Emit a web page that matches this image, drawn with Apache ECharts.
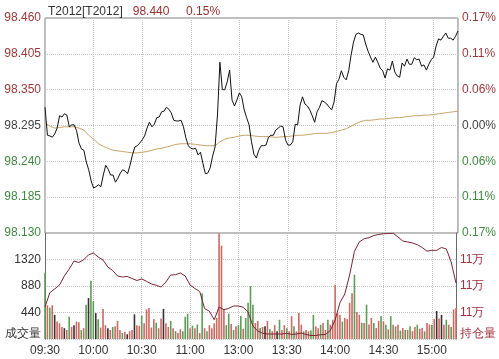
<!DOCTYPE html>
<html><head><meta charset="utf-8">
<script src="https://cdn.jsdelivr.net/npm/echarts@6/dist/echarts.min.js"></script>
<style>html,body{margin:0;padding:0;background:#fff}#c{width:499px;height:359px}</style>
</head><body><div id="c"></div>
<script>
const contract = 'T2012';
const preClose = 98.295;
const timeLabels = ['09:30','10:00','10:30','11:00','13:00','13:30','14:00','14:30','15:00'];
const priceTicks = [98.130, 98.185, 98.240, 98.295, 98.350, 98.405, 98.460];
const volTicks = [0, 440, 880, 1320, 1760];
const oiTicks = [111000, 112000, 113000, 114000, 115000];
const sessionMinutes = 255;
const priceStep = 1.5;   // minutes between price / volume samples
const avgStep = 3;       // minutes between average / open-interest samples

const price = [98.323,98.280,98.279,98.277,98.282,98.291,98.310,98.308,98.313,98.311,
98.293,98.296,98.296,98.287,98.268,98.259,98.257,98.239,98.227,98.210,
98.199,98.201,98.204,98.201,98.219,98.234,98.228,98.219,98.219,98.208,
98.214,98.222,98.227,98.225,98.221,98.234,98.250,98.262,98.264,98.268,
98.273,98.279,98.291,98.300,98.293,98.297,98.307,98.308,98.316,98.317,
98.323,98.320,98.314,98.303,98.302,98.302,98.303,98.293,98.276,98.264,
98.260,98.259,98.260,98.250,98.254,98.237,98.221,98.222,98.230,98.248,
98.262,98.311,98.392,98.350,98.350,98.362,98.380,98.334,98.325,98.334,
98.345,98.339,98.319,98.307,98.296,98.270,98.251,98.245,98.257,98.264,
98.264,98.265,98.277,98.280,98.280,98.288,98.291,98.294,98.293,98.273,
98.265,98.265,98.270,98.297,98.296,98.326,98.339,98.328,98.325,98.319,
98.310,98.300,98.316,98.323,98.333,98.331,98.328,98.323,98.319,98.331,
98.359,98.366,98.379,98.369,98.365,98.379,98.403,98.423,98.435,98.437,
98.435,98.434,98.420,98.409,98.400,98.392,98.400,98.392,98.383,98.379,
98.368,98.382,98.380,98.394,98.377,98.371,98.369,98.391,98.386,98.397,
98.389,98.389,98.399,98.396,98.397,98.386,98.388,98.380,98.389,98.396,
98.400,98.417,98.428,98.426,98.432,98.437,98.429,98.429,98.426,98.432,
98.440];

const avgPrice = [98.299,98.294,98.291,98.292,98.293,98.293,98.293,98.291,98.288,98.280,
98.274,98.267,98.263,98.260,98.257,98.256,98.255,98.254,98.253,98.253,
98.254,98.255,98.257,98.259,98.260,98.262,98.264,98.266,98.267,98.267,
98.267,98.266,98.265,98.264,98.264,98.264,98.270,98.274,98.276,98.277,
98.279,98.280,98.280,98.279,98.278,98.278,98.278,98.277,98.277,98.278,
98.278,98.279,98.280,98.280,98.281,98.282,98.283,98.283,98.283,98.284,
98.286,98.288,98.290,98.294,98.298,98.301,98.303,98.303,98.304,98.305,
98.305,98.306,98.307,98.307,98.308,98.309,98.310,98.310,98.311,98.311,
98.312,98.313,98.314,98.315,98.316,98.317];

const volume = [1100,560,520,560,400,290,260,200,180,150,
370,200,230,290,280,150,180,570,680,968,
630,430,330,190,500,230,180,150,200,210,
300,150,100,120,80,130,150,410,230,220,
390,260,490,515,190,330,270,180,340,500,
260,200,300,180,130,100,160,130,370,420,
180,220,180,240,100,760,180,130,230,180,
260,350,1750,1550,500,230,420,250,150,210,
230,380,170,350,600,880,570,265,300,183,
200,210,300,160,130,230,127,320,150,230,
180,130,380,210,127,430,238,127,150,127,
140,400,210,180,238,265,150,320,238,320,
900,430,400,290,350,330,600,760,1067,450,
400,270,265,570,240,350,265,183,300,380,
293,238,160,380,238,210,238,140,183,150,
150,210,130,200,238,170,183,127,265,240,
238,330,465,340,400,238,320,238,200,490,
515];

// tick direction of each volume bar: 1 up, -1 down, 0 unchanged
const volDir = [-1,1,-1,1,0,1,1,1,0,1,
-1,1,0,1,1,-1,1,-1,0,-1,
-1,0,-1,1,1,1,0,1,-1,1,
1,1,-1,1,0,1,1,0,1,1,
-1,1,1,1,1,1,-1,1,1,0,
1,1,-1,1,-1,1,1,-1,-1,-1,
1,-1,1,-1,1,-1,1,-1,1,1,
1,1,1,1,1,-1,-1,1,-1,1,
-1,-1,1,-1,-1,-1,-1,1,1,-1,
1,0,1,-1,1,1,0,-1,1,1,
-1,1,1,-1,1,1,1,-1,1,1,
-1,-1,1,1,-1,1,1,-1,1,1,
1,1,1,-1,1,1,1,1,-1,1,
1,-1,1,-1,1,1,-1,1,1,-1,
1,-1,1,-1,1,-1,1,-1,1,-1,
1,-1,1,1,-1,1,1,-1,1,1,
-1,1,0,1,0,1,-1,1,-1,1,
1];

const openInterest = [112208,112747,112887,113038,113378,113642,113944,113887,113993,114170,
114246,114095,113981,113717,113585,113378,113340,113359,113283,113208,
113264,113178,113076,113027,112962,113151,113415,113427,113491,113378,
113038,112906,112793,112151,112045,111728,112208,112106,112159,112245,
112245,112196,112019,111491,111302,111219,111189,111189,111189,111189,
111215,111170,111189,111226,111170,111132,111132,111162,111170,111321,
111717,112370,112698,113415,114310,114661,114785,114823,114906,114944,
114970,114981,114990,114849,114699,114661,114623,114559,114453,114314,
114348,114344,114453,114397,113906,113113];

const FONT = 'Liberation Sans';
const RED = '#9b3838', GREEN = '#3f8a3f', GRAY = '#444';
const dirColor = {'1': '#c96a63', '-1': '#5e9c58', '0': '#3b2f2f'};
const lastPrice = price[price.length - 1];
const lastPct = ((lastPrice - preClose) / preClose * 100).toFixed(2) + '%';
const pStep = +(priceTicks[1] - priceTicks[0]).toFixed(3);

const gridLine = {show: true, lineStyle: {color: '#c4c4c4', type: 'dotted', width: 1}};
const lbl = {fontFamily: FONT, fontSize: 12};
function sideColor(v) {
  v = parseFloat(v);
  if (v > preClose + 1e-6) return RED;
  if (v < preClose - 1e-6) return GREEN;
  return GRAY;
}

const chart = echarts.init(document.getElementById('c'), null, {renderer: 'canvas'});
chart.setOption({
  animation: false,
  backgroundColor: '#fff',
  title: {
    left: 43, top: 1,
    text: '{a|' + contract + '[' + contract + ']}{b|   ' + lastPrice.toFixed(3) + '     ' + lastPct + '}',
    textStyle: {fontWeight: 'normal', rich: {
      a: {fontFamily: FONT, fontSize: 12, fontWeight: 'normal', color: '#333'},
      b: {fontFamily: FONT, fontSize: 12, fontWeight: 'normal', color: '#9b2f2f'}
    }}
  },
  grid: [
    {left: 45, right: 40, top: 18, height: 215, show: true, borderColor: '#7a7a7a', borderWidth: 1, backgroundColor: 'transparent'},
    {left: 45, right: 40, top: 233, height: 106}
  ],
  xAxis: [
    {type: 'value', gridIndex: 0, min: 0, max: sessionMinutes, interval: 30,
     axisLine: {show: false}, axisTick: {show: false}, axisLabel: {show: false}, splitLine: gridLine},
    {type: 'value', gridIndex: 1, min: 0, max: sessionMinutes, interval: 30,
     axisLine: {show: false}, axisTick: {show: false}, splitLine: gridLine,
     axisLabel: Object.assign({}, lbl, {color: '#333', margin: 6, showMaxLabel: false,
       formatter: v => timeLabels[Math.round(v / 30)] || ''})}
  ],
  yAxis: [
    {type: 'value', gridIndex: 0, position: 'left', min: priceTicks[0], max: priceTicks[priceTicks.length - 1], interval: pStep,
     axisLine: {show: false}, axisTick: {show: false}, splitLine: gridLine,
     axisLabel: Object.assign({}, lbl, {margin: 4, formatter: v => (+v).toFixed(3), color: sideColor})},
    {type: 'value', gridIndex: 0, position: 'right', min: priceTicks[0], max: priceTicks[priceTicks.length - 1], interval: pStep,
     axisLine: {show: false}, axisTick: {show: false}, splitLine: {show: false},
     axisLabel: Object.assign({}, lbl, {margin: 4,
       formatter: v => Math.abs((v - preClose) / preClose * 100).toFixed(2) + '%', color: sideColor})},
    {type: 'value', gridIndex: 1, position: 'left', min: volTicks[0], max: volTicks[volTicks.length - 1], interval: volTicks[1] - volTicks[0],
     axisLine: {show: true, lineStyle: {color: '#6a6a6a'}}, axisTick: {show: false}, splitLine: gridLine,
     axisLabel: Object.assign({}, lbl, {margin: 4, color: '#333',
       formatter: v => v === volTicks[0] ? '{n|成交量}' : (v === volTicks[volTicks.length - 1] ? '' : String(v)),
       rich: {n: {fontFamily: FONT, fontSize: 12, color: '#333', padding: [0, 0, 10, 0]}}})},
    {type: 'value', gridIndex: 1, position: 'right', min: oiTicks[0], max: oiTicks[oiTicks.length - 1], interval: oiTicks[1] - oiTicks[0],
     axisLine: {show: true, lineStyle: {color: '#6a6a6a'}}, axisTick: {show: false}, splitLine: {show: false},
     axisLabel: Object.assign({}, lbl, {margin: 4, color: '#a0303f',
       formatter: v => v === oiTicks[0] ? '{n|持仓量}' : (v === oiTicks[oiTicks.length - 1] ? '' : Math.floor(v / 10000) + '万'),
       rich: {n: {fontFamily: FONT, fontSize: 12, color: '#a0303f', padding: [0, 0, 10, 0]}}})}
  ],
  series: [
    {type: 'line', xAxisIndex: 0, yAxisIndex: 0, symbol: 'none', z: 3,
     lineStyle: {color: '#c9a468', width: 1},
     data: avgPrice.map((v, i) => [i * avgStep, v])},
    {type: 'line', xAxisIndex: 0, yAxisIndex: 0, symbol: 'none', z: 4,
     lineStyle: {color: '#111', width: 1},
     data: price.map((v, i) => [i * priceStep, v])},
    {type: 'bar', xAxisIndex: 1, yAxisIndex: 2, barWidth: 1.6, z: 2,
     data: volume.map((v, i) => ({value: [i * priceStep, v], itemStyle: {color: dirColor[String(volDir[i])]}}))},
    {type: 'line', xAxisIndex: 1, yAxisIndex: 3, symbol: 'none', z: 3,
     lineStyle: {color: '#7b2436', width: 1},
     data: openInterest.map((v, i) => [i * avgStep, v])}
  ]
});
</script></body></html>
